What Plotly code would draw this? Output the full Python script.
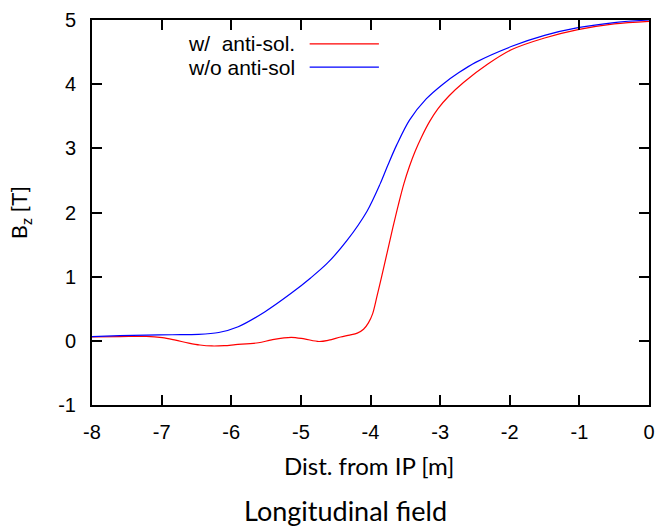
import plotly.graph_objects as go

# Red: with anti-solenoid
x_with = [-8.0, -7.6, -7.22, -6.99, -6.8, -6.61, -6.45, -6.28, -6.1, -5.94, -5.61, -5.42, -5.14,
          -4.95, -4.74, -4.6, -4.43, -4.3, -4.19, -4.1, -4.03, -3.97, -3.91, -3.84, -3.76,
          -3.68, -3.60, -3.52, -3.44, -3.36, -3.27, -3.15, -3.03, -2.87, -2.66,
          -2.32, -1.97, -1.5, -1.02, -0.5, 0.0]
y_with = [0.06, 0.065, 0.07, 0.05, 0.01, -0.035, -0.065, -0.08, -0.075, -0.06, -0.03, 0.015, 0.055,
          0.03, -0.01, 0.01, 0.06, 0.09, 0.12, 0.18, 0.28, 0.42, 0.68, 1.0, 1.38,
          1.76, 2.12, 2.45, 2.72, 2.95, 3.17, 3.42, 3.62, 3.82, 4.03,
          4.31, 4.54, 4.72, 4.85, 4.94, 4.98]

# Blue: without anti-solenoid
x_without = [-8.0, -7.6, -7.22, -6.85, -6.47, -6.18, -5.9, -5.52, -5.14, -4.86, -4.62, -4.34,
             -4.05, -3.86, -3.75, -3.625, -3.44, -3.20, -2.96, -2.73, -2.49,
             -1.97, -1.5, -1.02, -0.5, 0.0]
y_without = [0.066, 0.08, 0.09, 0.095, 0.10, 0.13, 0.22, 0.45, 0.74, 0.98, 1.21, 1.56,
             2.02, 2.45, 2.74, 3.05, 3.44, 3.77, 4.00, 4.18, 4.34,
             4.59, 4.76, 4.88, 4.96, 5.0]

x_ticks = [-8, -7, -6, -5, -4, -3, -2, -1, 0]
y_ticks = [-1, 0, 1, 2, 3, 4, 5]
legend_labels = ["w/  anti-sol.", "w/o anti-sol"]
colors = ["#ff0000", "#0000ff"]

fig = go.Figure()
fig.add_trace(go.Scatter(x=x_with, y=y_with, mode="lines",
                         line=dict(color=colors[0], width=1.2, shape="spline", smoothing=0.9), showlegend=False))
fig.add_trace(go.Scatter(x=x_without, y=y_without, mode="lines",
                         line=dict(color=colors[1], width=1.2, shape="spline", smoothing=0.9), showlegend=False))

tickfont = dict(family="Liberation Sans, Arial, sans-serif", size=20, color="black")
axis_common = dict(showgrid=False, zeroline=False, showline=True, linecolor="black", linewidth=2,
                   mirror="ticks", ticks="inside", ticklen=10, tickwidth=1.5, tickcolor="black",
                   tickfont=tickfont)
fig.update_xaxes(range=[-8, 0], tickvals=x_ticks, ticktext=[str(v) for v in x_ticks], ticklabelstandoff=8, **axis_common)
fig.update_yaxes(range=[-1, 5], tickvals=y_ticks, ticktext=[str(v) for v in y_ticks], ticklabelstandoff=10, **axis_common)

W, H = 664, 526
L, R, T, B = 92, 9, 17, 121
pw, ph = W - L - R, H - T - B

def px2paper_x(px):
    return (px - L) / pw

def py2paper_y(py):
    return (H - B - py) / ph

annotations = []
for i, (lab, col) in enumerate(zip(legend_labels, colors)):
    ypix = 41 + i * 23.5
    annotations.append(dict(x=px2paper_x(299), y=py2paper_y(ypix), xref="paper", yref="paper",
                            text=lab, showarrow=False, xanchor="right", yanchor="middle",
                            font=dict(family="Liberation Sans, Arial, sans-serif", size=21, color="black")))
    fig.add_shape(type="line", xref="paper", yref="paper",
                  x0=px2paper_x(312), x1=px2paper_x(382), y0=py2paper_y(ypix), y1=py2paper_y(ypix),
                  line=dict(color=col, width=1.2))

annotations.append(dict(x=px2paper_x(372), y=py2paper_y(466), xref="paper", yref="paper",
                        text="Dist. from IP [m]", showarrow=False, xanchor="center", yanchor="middle",
                        font=dict(family="Lato, sans-serif", size=24, color="black")))
annotations.append(dict(x=px2paper_x(19), y=py2paper_y(211), xref="paper", yref="paper",
                        text="B<sub>z</sub> [T]", showarrow=False, xanchor="center", yanchor="middle", textangle=-90,
                        font=dict(family="Lato, sans-serif", size=22, color="black")))
annotations.append(dict(x=px2paper_x(348), y=py2paper_y(511), xref="paper", yref="paper",
                        text="Longitudinal field", showarrow=False, xanchor="center", yanchor="middle",
                        font=dict(family="Lato, sans-serif", size=27, color="black")))

fig.update_layout(width=W, height=H, margin=dict(l=L, r=R, t=T, b=B),
                  plot_bgcolor="white", paper_bgcolor="white", annotations=annotations, showlegend=False)

fig.write_html("out.html")
